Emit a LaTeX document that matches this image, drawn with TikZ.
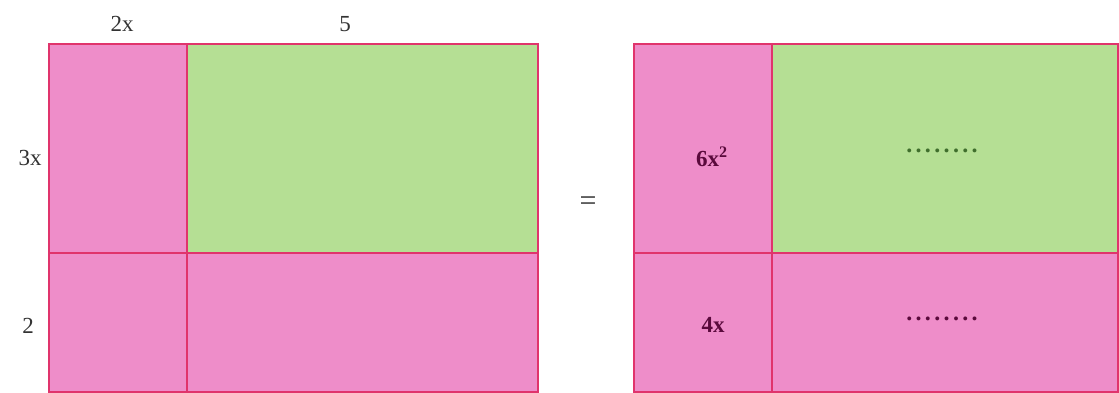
\documentclass[tikz,border=0pt]{standalone}
\usepackage{fontspec}
\setmainfont{Liberation Serif}
\definecolor{pinkfill}{HTML}{EE8DC9}
\definecolor{greenfill}{HTML}{B5DF94}
\definecolor{edge}{HTML}{E0346C}
\definecolor{plum}{HTML}{5A0A3C}
\definecolor{darkgreen}{HTML}{3F6E2C}
\begin{document}
\begin{tikzpicture}[x=1pt,y=-1pt,
  cell/.style={draw=edge,line width=2.8pt},
  dim/.style={font=\fontsize{23}{25}\selectfont,text=black!80},
  term/.style={font=\fontsize{23}{25}\selectfont\bfseries,text=plum},
  dotrow/.style={font=\fontsize{24}{26}\selectfont\bfseries\addfontfeature{LetterSpace=14}}]
\useasboundingbox (0,0) rectangle (1119,393);
% left figure
\filldraw[cell,fill=pinkfill] (49,44) rectangle (187,253);
\filldraw[cell,fill=greenfill] (187,44) rectangle (538,253);
\filldraw[cell,fill=pinkfill] (49,253) rectangle (187,392);
\filldraw[cell,fill=pinkfill] (187,253) rectangle (538,392);
% right figure
\filldraw[cell,fill=pinkfill] (634,44) rectangle (772,253);
\filldraw[cell,fill=greenfill] (772,44) rectangle (1118,253);
\filldraw[cell,fill=pinkfill] (634,253) rectangle (772,392);
\filldraw[cell,fill=pinkfill] (772,253) rectangle (1118,392);
% labels
\node[dim] (l2x) at (122,24) {2x};
\node[dim] (l5) at (345,24) {5};
\node[dim] (l3x) at (30,158) {3x};
\node[dim] (l2) at (28,326) {2};
\node[dim,font=\fontsize{30}{32}\selectfont] (eq) at (588,204) {=};
\node[term] (t6) at (712,157) {6x\textsuperscript{2}};
\node[term] (t4) at (713,325) {4x};
\node[dotrow,text=darkgreen] (d1) at (942,151) {........};
\node[dotrow,text=plum] (d2) at (942,319) {........};
\end{tikzpicture}
\end{document}
